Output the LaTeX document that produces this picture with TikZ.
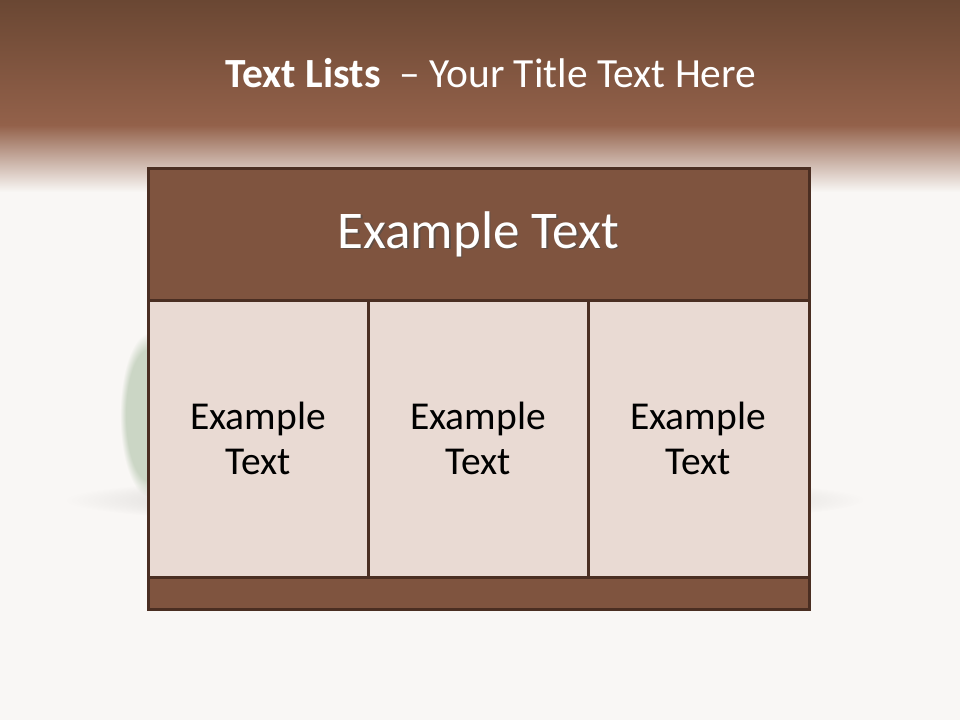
\documentclass[tikz,border=0pt]{standalone}
\usepackage{fontspec}
\setmainfont{Carlito}
\usetikzlibrary{fadings}
\definecolor{bgc}{HTML}{F9F7F5}
\definecolor{topdark}{HTML}{6A4733}
\definecolor{topmid}{HTML}{93614A}
\definecolor{hdrfill}{HTML}{7F543F}
\definecolor{cellfill}{HTML}{E9DAD3}
\definecolor{edgec}{HTML}{4A2E22}
\definecolor{bushc}{HTML}{CBD6C5}
\tikzset{
  cellbox/.style={draw=edgec, line width=3pt, fill=cellfill, inner sep=0pt},
  hdrbox/.style={draw=edgec, line width=3pt, fill=hdrfill, inner sep=0pt},
  celltext/.style={font=\fontsize{39.5}{45}\selectfont, align=center, text=black},
}
\begin{document}
\begin{tikzpicture}[x=1pt,y=-1pt]
\useasboundingbox (0,0) rectangle (960,720);
\fill[bgc] (0,0) rectangle (960,720);
\shade[top color=topdark, bottom color=topmid] (0,0) rectangle (960,125);
\shade[top color=topmid, bottom color=bgc] (0,125) rectangle (960,192);
% faint shadow and bush behind the table
\fill[black, opacity=0.06, path fading=circle with fuzzy edge 20 percent] (465,500) ellipse (400 and 26);
\fill[bushc, path fading=circle with fuzzy edge 20 percent] (150,415) ellipse (30 and 82);
% title
\node[text=white, anchor=base] (title) at (491,87)
  {\fontsize{41.5}{48}\selectfont\textbf{Text Lists}\ \ – Your Title Text Here};
% table
\path[hdrbox] (148,168) rectangle (809,300);
\coordinate (hdrc) at (478.5,234);
\node[text=black!70, opacity=0.6, font=\fontsize{53}{60}\selectfont] at ([xshift=1.5pt,yshift=-1.5pt]hdrc) {Example Text};
\node[text=white, font=\fontsize{53}{60}\selectfont] (hdr) at (hdrc) {Example Text};
\path[cellbox] (148,300) rectangle (368,577);
\path[cellbox] (368,300) rectangle (588,577);
\path[cellbox] (588,300) rectangle (809,577);
\path[hdrbox] (148,577) rectangle (809,609);
\node[celltext] (c1) at (258,438) {Example\\Text};
\node[celltext] (c2) at (478,438) {Example\\Text};
\node[celltext] (c3) at (698,438) {Example\\Text};
\end{tikzpicture}
\end{document}
